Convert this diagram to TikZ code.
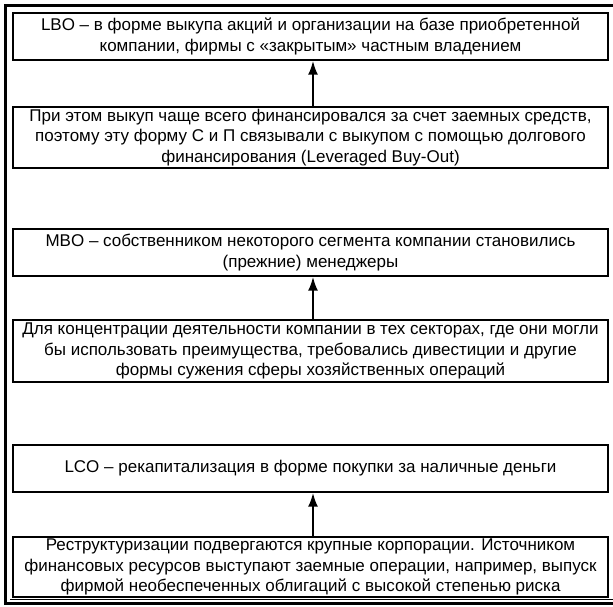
\documentclass[tikz,border=0pt]{standalone}
\usepackage{fontspec}
\setmainfont{Liberation Sans}
\usetikzlibrary{arrows.meta}
\begin{document}
\begin{tikzpicture}[x=1pt,y=-1pt,
  box/.style={draw,line width=1.4pt,minimum width=595pt,inner sep=0pt,align=center,
    font=\fontsize{17}{20.5}\selectfont},
  arr/.style={line width=2.2pt,-{Latex[length=14pt,width=10pt]}}]
\useasboundingbox (0,0) rectangle (613,606);
\draw[line width=3.5pt] (614,5.5) -- (5.5,5.5) -- (5.5,603.5) -- (614,603.5);
\draw[line width=1pt] (10,599.5) -- (614,599.5);
\node[box,minimum height=47pt] (b1) at (310.5,36.5) {LBO – в форме выкупа акций и организации на базе приобретенной\\компании, фирмы с «закрытым» частным владением};
\node[box,minimum height=61pt] (b2) at (310.5,137.5) {При этом выкуп чаще всего финансировался за счет заемных средств,\\поэтому эту форму С и П связывали с выкупом с помощью долгового\\финансирования (Leveraged Buy-Out)};
\node[box,minimum height=47pt] (b3) at (310.5,252.5) {MBO – собственником некоторого сегмента компании становились\\(прежние) менеджеры};
\node[box,minimum height=62pt] (b4) at (310.5,351) {Для концентрации деятельности компании в тех секторах, где они могли\\бы использовать преимущества, требовались дивестиции и другие\\формы сужения сферы хозяйственных операций};
\node[box,minimum height=47pt] (b5) at (310.5,468.5) {LCO – рекапитализация в форме покупки за наличные деньги};
\node[box,minimum height=60pt] (b6) at (310.5,567) {Реструктуризации подвергаются крупные корпорации. Источником\\финансовых ресурсов выступают заемные операции, например, выпуск\\фирмой необеспеченных облигаций с высокой степенью риска};
\draw[arr] ([xshift=2.5pt]b2.north) -- ([xshift=2.5pt]b1.south);
\draw[arr] ([xshift=2.5pt]b4.north) -- ([xshift=2.5pt]b3.south);
\draw[arr] ([xshift=2.5pt]b6.north) -- ([xshift=2.5pt]b5.south);
\end{tikzpicture}
\end{document}
